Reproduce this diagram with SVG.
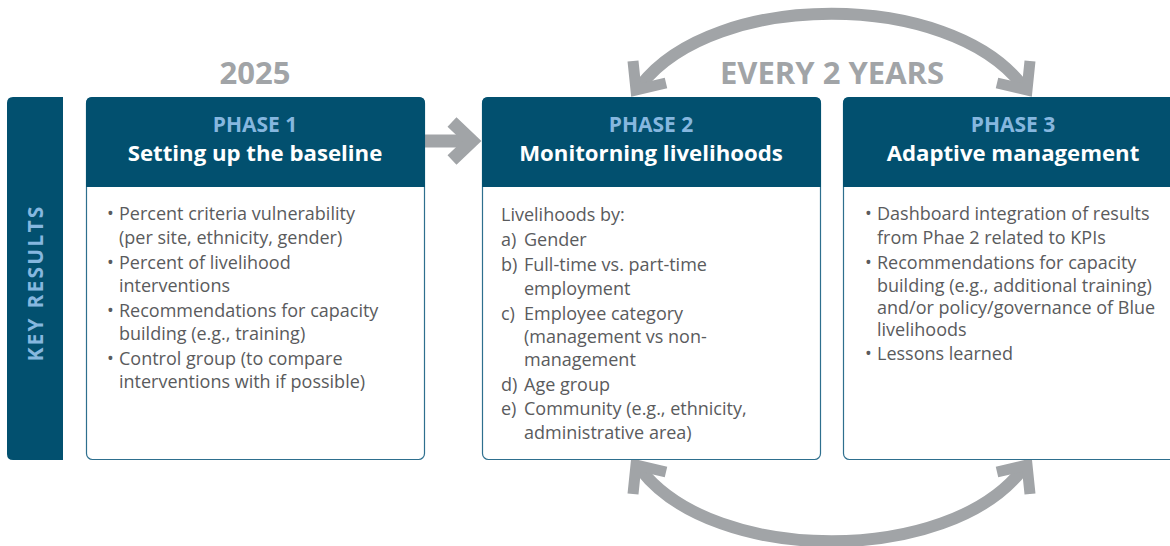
<svg xmlns="http://www.w3.org/2000/svg" width="1170" height="546" viewBox="0 0 1170 546">
  <style>
    .hdr { fill: #02506f; }
    .card { fill: #ffffff; stroke: #2e6f8e; stroke-width: 1.2; }
    .phase { font-family: "Open Sans", "Noto Sans", sans-serif; font-weight: 700; font-size: 21px; fill: #86b7df; text-anchor: middle; }
    .title { font-family: "Open Sans", "Noto Sans", sans-serif; font-weight: 700; font-size: 22.2px; fill: #ffffff; text-anchor: middle; }
    .label { font-family: "Open Sans", "Noto Sans", sans-serif; font-weight: 700; font-size: 31px; fill: #a1a4a7; text-anchor: middle; }
    .body { font-family: "Open Sans", "Noto Sans", sans-serif; font-size: 18px; fill: #5a5b5d; }
    .arrow { fill: none; stroke: #a1a4a7; stroke-width: 12; stroke-linejoin: miter; stroke-miterlimit: 10; }
  </style>

  <!-- side label -->
  <g id="key-results">
    <path class="hdr" d="M13,97 H63 V460 H13 Q7,460 7,454 V103 Q7,97 13,97 Z"/>
    <text transform="translate(42.5,283) rotate(-90)" class="phase" style="letter-spacing:2.2px">KEY RESULTS</text>
  </g>

  <!-- headings above the cards -->
  <text class="label" x="255" y="84">2025</text>
  <text class="label" x="832" y="84">EVERY 2 YEARS</text>

  <!-- connectors -->
  <g id="connectors">
    <!-- phase 1 to phase 2 -->
    <line class="arrow" x1="425" y1="141" x2="470" y2="141" style="stroke-width:13"/>
    <polyline class="arrow" points="452,122 472,141 452,160" style="stroke-width:13"/>
    <!-- top loop between phase 2 and phase 3 -->
    <path class="arrow" d="M641,85 C715,-10 948,-10 1022,85"/>
    <polyline class="arrow" points="633,61 636,90 666,83" style="stroke-width:11"/>
    <polyline class="arrow" points="1030,61 1027,90 997,83" style="stroke-width:11"/>
    <!-- bottom loop between phase 2 and phase 3 -->
    <path class="arrow" d="M641,470 C715,565 948,565 1022,470"/>
    <polyline class="arrow" points="633,494 636,465 666,472" style="stroke-width:11"/>
    <polyline class="arrow" points="1030,494 1027,465 997,472" style="stroke-width:11"/>
  </g>

  <!-- phase 1 -->
  <g id="phase1">
    <rect class="card" x="86.5" y="97.5" width="338" height="362" rx="6"/>
    <path class="hdr" d="M92,97 H419 Q425,97 425,103 V187 H86 V103 Q86,97 92,97 Z"/>
    <text class="phase" x="255" y="131.5">PHASE 1</text>
    <text class="title" x="255" y="160.5">Setting up the baseline</text>
    <g class="body">
      <text x="107" y="220">•</text>
      <text x="119" y="220">Percent criteria vulnerability</text>
      <text x="119" y="244">(per site, ethnicity, gender)</text>
      <text x="107" y="269">•</text>
      <text x="119" y="269">Percent of livelihood</text>
      <text x="119" y="292">interventions</text>
      <text x="107" y="317">•</text>
      <text x="119" y="317">Recommendations for capacity</text>
      <text x="119" y="340">building (e.g., training)</text>
      <text x="107" y="365">•</text>
      <text x="119" y="365">Control group (to compare</text>
      <text x="119" y="388">interventions with if possible)</text>
    </g>
  </g>

  <!-- phase 2 -->
  <g id="phase2">
    <rect class="card" x="482.5" y="97.5" width="338" height="362" rx="6"/>
    <path class="hdr" d="M488,97 H815 Q821,97 821,103 V187 H482 V103 Q482,97 488,97 Z"/>
    <text class="phase" x="651" y="131.5">PHASE 2</text>
    <text class="title" x="651" y="160.5">Monitorning livelihoods</text>
    <g class="body">
      <text x="501" y="221">Livelihoods by:</text>
      <text x="501" y="246">a)</text>
      <text x="524" y="246">Gender</text>
      <text x="501" y="271">b)</text>
      <text x="524" y="271">Full-time vs. part-time</text>
      <text x="524" y="295">employment</text>
      <text x="501" y="320">c)</text>
      <text x="524" y="320">Employee category</text>
      <text x="524" y="343">(management vs non-</text>
      <text x="524" y="366">management</text>
      <text x="501" y="391">d)</text>
      <text x="524" y="391">Age group</text>
      <text x="501" y="415">e)</text>
      <text x="524" y="415">Community (e.g., ethnicity,</text>
      <text x="524" y="439">administrative area)</text>
    </g>
  </g>

  <!-- phase 3 (runs past the right edge) -->
  <g id="phase3">
    <rect class="card" x="843.5" y="97.5" width="340" height="362" rx="6"/>
    <path class="hdr" d="M849,97 H1190 V187 H843 V103 Q843,97 849,97 Z"/>
    <text class="phase" x="1013" y="131.5">PHASE 3</text>
    <text class="title" x="1013" y="160.5">Adaptive management</text>
    <g class="body">
      <text x="865" y="220">•</text>
      <text x="877" y="220">Dashboard integration of results</text>
      <text x="877" y="244">from Phae 2 related to KPIs</text>
      <text x="865" y="269">•</text>
      <text x="877" y="269">Recommendations for capacity</text>
      <text x="877" y="292">building (e.g., additional training)</text>
      <text x="877" y="314">and/or policy/governance of Blue</text>
      <text x="877" y="336">livelihoods</text>
      <text x="865" y="360">•</text>
      <text x="877" y="360">Lessons learned</text>
    </g>
  </g>
</svg>
